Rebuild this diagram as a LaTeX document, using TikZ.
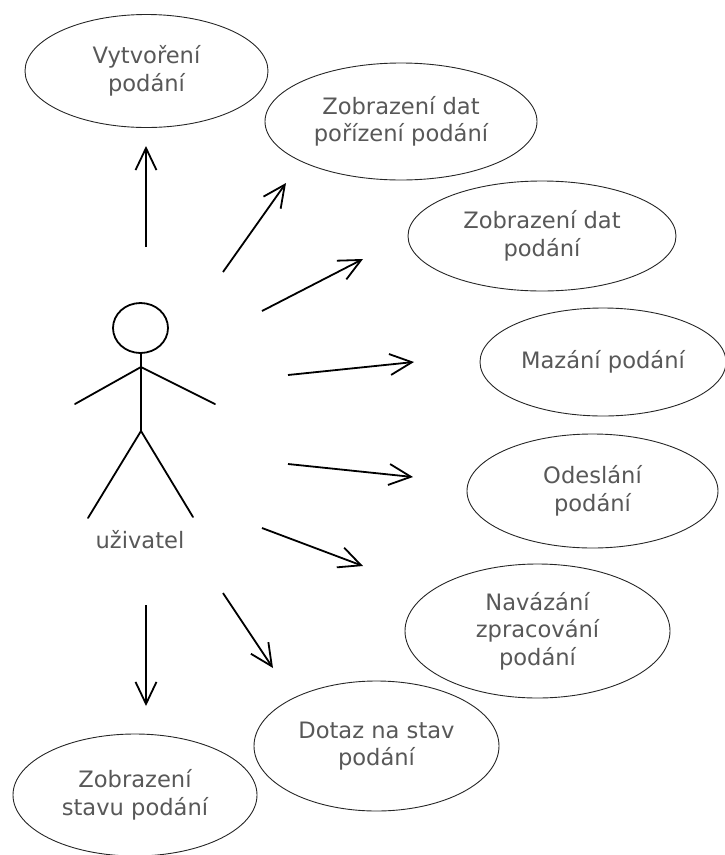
\documentclass[tikz,border=0pt]{standalone}
\usepackage{fontspec}
\setmainfont{DejaVu Sans}
\usetikzlibrary{shapes.geometric,arrows.meta}
\definecolor{txtgray}{RGB}{88,88,88}
\tikzset{
  usecase/.style={ellipse, draw=black!85, line width=0.9pt, inner sep=0pt,
    align=center, text=txtgray, font=\fontsize{22.6}{27.5}\selectfont},
  assoc/.style={line width=1.8pt, -{Straight Barb[length=22pt,width=21pt,line width=1.8pt]}},
  limb/.style={line width=1.8pt, line cap=round},
}
\begin{document}
\begin{tikzpicture}[x=1pt,y=-1pt]
\useasboundingbox (0,0) rectangle (725,855);

% use cases
\node[usecase, minimum width=243pt, minimum height=113pt] (vytvoreni) at (146.5,71) {Vytvoření\\podání};
\node[usecase, minimum width=272pt, minimum height=117pt] (datporizeni) at (401,121.5) {Zobrazení dat\\pořízení podání};
\node[usecase, minimum width=268pt, minimum height=110pt] (datpodani) at (542,236) {Zobrazení dat\\podání};
\node[usecase, minimum width=246pt, minimum height=108pt] (mazani) at (603,362) {Mazání podání};
\node[usecase, minimum width=251pt, minimum height=114pt] (odeslani) at (592.5,491) {Odeslání\\podání};
\node[usecase, minimum width=265pt, minimum height=134pt] (navazani) at (537.5,631) {Navázání\\zpracování\\podání};
\node[usecase, minimum width=245pt, minimum height=130pt] (dotaz) at (376.5,746) {Dotaz na stav\\podání};
\node[usecase, minimum width=244pt, minimum height=122pt] (stav) at (135,795) {Zobrazení\\stavu podání};

% actor
\draw[line width=1.8pt] (140.5,328) ellipse [x radius=27.5pt, y radius=25pt];
\coordinate (neck) at (141,353);
\coordinate (shoulder) at (141,367);
\coordinate (hip) at (141,431);
\coordinate (lhand) at (75,404);
\coordinate (rhand) at (215,404);
\coordinate (lfoot) at (88,518);
\coordinate (rfoot) at (193,517);
\draw[limb] (neck) -- (hip);
\draw[limb] (lhand) -- (shoulder) -- (rhand);
\draw[limb] (lfoot) -- (hip) -- (rfoot);
\node[anchor=base, text=txtgray, font=\fontsize{22.6}{27.5}\selectfont, inner sep=0pt] (actor) at (140,548) {uživatel};

% association arrows
\coordinate (s1) at (146,247); \coordinate (e1) at (146,146);
\coordinate (s2) at (223,272); \coordinate (e2) at (286,183);
\coordinate (s3) at (262,311); \coordinate (e3) at (363,259);
\coordinate (s4) at (288,375); \coordinate (e4) at (414,362);
\coordinate (s5) at (288,464); \coordinate (e5) at (413,477);
\coordinate (s6) at (262,528); \coordinate (e6) at (363,566);
\coordinate (s7) at (223,593); \coordinate (e7) at (273,668);
\coordinate (s8) at (146,605); \coordinate (e8) at (146,706);
\foreach \i in {1,...,8} \draw[assoc] (s\i) -- (e\i);
\end{tikzpicture}
\end{document}
